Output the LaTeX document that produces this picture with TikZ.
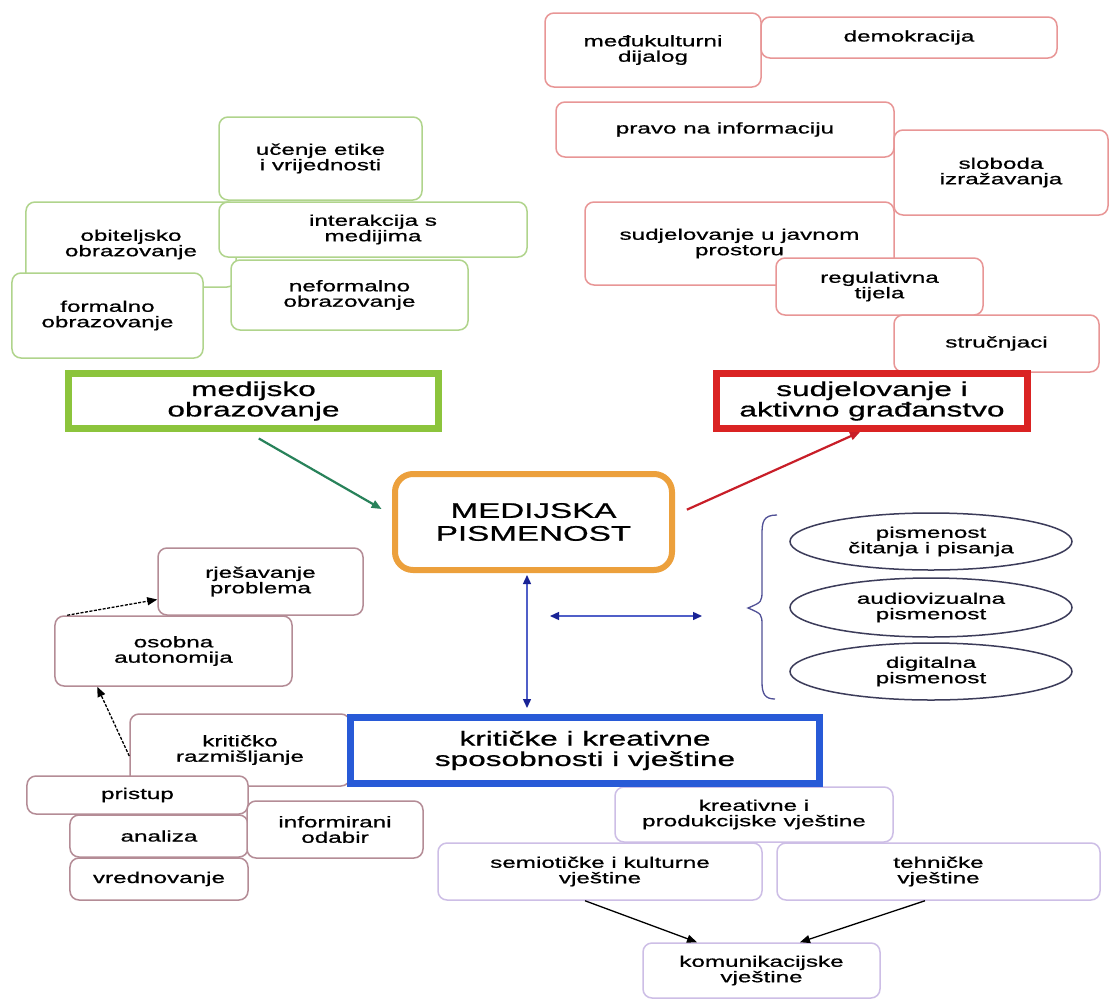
\documentclass[tikz,border=0pt]{standalone}
\usepackage{fontspec}
\setmainfont{Liberation Sans}[FakeStretch=1.57, FakeBold=0.8]
\usetikzlibrary{arrows.meta,shapes.geometric}
\lineskiplimit=-50pt

\definecolor{gthin}{RGB}{176,212,140}
\definecolor{gmain}{RGB}{140,196,60}
\definecolor{garr}{RGB}{40,130,90}
\definecolor{omain}{RGB}{236,160,60}
\definecolor{rthin}{RGB}{232,150,150}
\definecolor{rmain}{RGB}{218,35,35}
\definecolor{rarr}{RGB}{200,30,40}
\definecolor{bmain}{RGB}{40,90,215}
\definecolor{barr}{RGB}{80,95,200}
\definecolor{bnavy}{RGB}{25,35,150}
\definecolor{pthin}{RGB}{180,140,150}
\definecolor{lthin}{RGB}{205,190,230}
\definecolor{ellc}{RGB}{60,60,90}
\definecolor{bracec}{RGB}{80,80,150}

\tikzset{
	cbox/.style={draw=#1, fill=white, rounded corners=9bp, line width=1.5bp, inner sep=0pt, align=center, font=\fontsize{15.5}{15.5}\selectfont},
	mbox/.style={draw=#1, fill=white, line width=7bp, inner sep=0pt, align=center, font=\fontsize{20.2}{20.5}\selectfont},
	ebox/.style={draw=ellc, ellipse, line width=1.5bp, inner sep=0pt, align=center, minimum width=282bp, font=\fontsize{15.5}{15.5}\selectfont},
	tip/.style={-{Triangle[length=10bp,width=8bp]}},
	darrow/.style={tip, draw=black, line width=1.3bp, dash pattern=on 3bp off 1.5bp},
	karrow/.style={tip, draw=black, line width=1.3bp},
	barrow/.style={{Triangle[length=9bp,width=8bp,color=bnavy]}-{Triangle[length=9bp,width=8bp,color=bnavy]}, draw=barr, line width=1.4bp}
}

\begin{document}
\begin{tikzpicture}[x=1bp, y=-1bp]
		%%%%% START %%%%%
		\fill[white] (0, 0) rectangle (1109, 999);
		\useasboundingbox (0, 0) rectangle (1109, 999);
		
		\node[cbox=gthin, minimum width=210bp, minimum height=85bp] (obit) at (131, 244.5) {obiteljsko\\obrazovanje};
		\node[cbox=gthin, minimum width=203bp, minimum height=83bp] (ucen) at (320.5, 158.5) {učenje etike\\i vrijednosti};
		\node[cbox=gthin, minimum width=308bp, minimum height=55bp] (inter) at (373, 229.5) {interakcija s\\medijima};
		\node[cbox=gthin, minimum width=237bp, minimum height=70bp] (nefor) at (349.5, 295) {neformalno\\obrazovanje};
		\node[cbox=gthin, minimum width=191bp, minimum height=85bp] (formo) at (107.5, 315.5) {formalno\\obrazovanje};
		
		\node[mbox=gmain, minimum width=370bp, minimum height=55bp] (medobr) at (253.5, 401) {medijsko\\obrazovanje};
		
		\node[cbox=rthin, minimum width=216bp, minimum height=74bp] (medk) at (653, 50) {međukulturni\\dijalog};
		\node[cbox=rthin, minimum width=296bp, minimum height=41bp] (demo) at (909, 37.5) {demokracija};
		\node[cbox=rthin, minimum width=338bp, minimum height=55bp] (pravo) at (725, 129.5) {pravo na informaciju};
		\node[cbox=rthin, minimum width=214bp, minimum height=85bp] (slob) at (1001, 172.5) {sloboda\\izražavanja};
		\node[cbox=rthin, minimum width=309bp, minimum height=83bp] (sudj) at (739.5, 243.5) {sudjelovanje u javnom\\prostoru};
		\node[cbox=rthin, minimum width=207bp, minimum height=57bp] (regu) at (879.5, 286.5) {regulativna\\tijela};
		\node[cbox=rthin, minimum width=205bp, minimum height=57bp] (stru) at (996.5, 343.5) {stručnjaci};
		
		\node[mbox=rmain, minimum width=311bp, minimum height=55bp] (gradj) at (872, 401) {sudjelovanje i\\aktivno građanstvo};
		
		\node[mbox=omain, line width=6bp, rounded corners=18bp, minimum width=277bp, minimum height=96bp, font=\fontsize{21.2}{23}\selectfont] (medpis) at (533.5, 522) {MEDIJSKA\\PISMENOST};
		
		\node[ebox, minimum height=57bp] (citp) at (931, 541.5) {pismenost\\čitanja i pisanja};
		\node[ebox, minimum height=59bp] (audv) at (931, 607.5) {audiovizualna\\pismenost};
		\node[ebox, minimum height=57bp] (digp) at (931, 671.5) {digitalna\\pismenost};
		\draw[bracec, line width=1.3bp] (777, 515) .. controls (763, 515) and (762, 522) .. (762, 535) -- (762, 590)
			.. controls (762, 602) .. (748, 608) .. controls (762, 614) .. (762, 626) -- (762, 682)
			.. controls (762, 694) and (765, 699) .. (775, 699);
		
		\node[cbox=pthin, minimum width=205bp, minimum height=67bp] (rjes) at (260.5, 581.5) {rješavanje\\problema};
		\node[cbox=pthin, minimum width=237bp, minimum height=70bp] (osob) at (173.5, 651) {osobna\\autonomija};
		\node[cbox=pthin, minimum width=220bp, minimum height=72bp] (krit) at (240, 750) {kritičko\\razmišljanje};
		
		\node[cbox=lthin, minimum width=278bp, minimum height=55bp] (krea) at (754, 814.5) {kreativne i\\produkcijske vještine};
		\node[mbox=bmain, minimum width=469bp, minimum height=66bp] (kvs) at (585, 750.5) {kritičke i kreativne\\sposobnosti i vještine};
		
		\node[cbox=pthin, minimum width=221bp, minimum height=38bp] (prist) at (137.5, 795) {pristup};
		\node[cbox=pthin, minimum width=178bp, minimum height=42bp] (anal) at (159, 836) {analiza};
		\node[cbox=pthin, minimum width=178bp, minimum height=42bp] (vred) at (159, 879) {vrednovanje};
		\node[cbox=pthin, minimum width=176bp, minimum height=57bp] (info) at (335, 829.5) {informirani\\odabir};
		
		\node[cbox=lthin, minimum width=324bp, minimum height=57bp] (semi) at (600, 871.5) {semiotičke i kulturne\\vještine};
		\node[cbox=lthin, minimum width=323bp, minimum height=57bp] (tehn) at (938.5, 871.5) {tehničke\\vještine};
		\node[cbox=lthin, minimum width=237bp, minimum height=55bp] (komu) at (761.5, 970.5) {komunikacijske\\vještine};
		
		\draw[tip, garr, line width=2.2bp, shorten <=13bp, shorten >=12bp] ([xshift=-6bp]medobr.south) -- ([yshift=7bp]medpis.west);
		\draw[tip, rarr, line width=2.2bp, shorten <=13bp] ([yshift=7bp]medpis.east) -- ([xshift=-12bp]gradj.south);
		\draw[barrow, shorten <=2bp, shorten >=6bp] ([xshift=-6.5bp]medpis.south) -- ([xshift=-6.5bp]medpis.south |- kvs.north);
		\coordinate (hl) at (550, 616);
		\coordinate (hr) at (702, 616);
		\draw[barrow] (hl) -- (hr);
		
		\draw[darrow] ([xshift=13bp]osob.north west) -- ([yshift=-18bp]rjes.west);
		\draw[darrow] ([yshift=-6bp]krit.west) -- ([xshift=43bp]osob.south west);
		\draw[karrow] ([xshift=-15bp]semi.south) -- ([xshift=-64.5bp]komu.north);
		\draw[karrow] ([xshift=-13.5bp]tehn.south) -- ([xshift=38.5bp]komu.north);
		
		%%%%% END %%%%%
\end{tikzpicture}
\end{document}
